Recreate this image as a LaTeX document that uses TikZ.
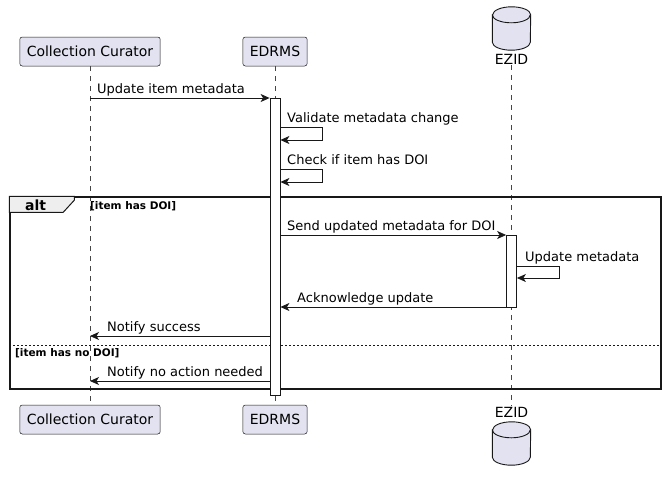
\documentclass[tikz,border=0pt]{standalone}
\usepackage{fontspec}
\setmainfont{DejaVu Sans}
\usetikzlibrary{arrows.meta,calc}
\definecolor{partfill}{HTML}{E2E2F0}
\definecolor{linegray}{HTML}{181818}
\definecolor{tabfill}{HTML}{EEEEEE}

\begin{document}
\begin{tikzpicture}[x=1pt,y=-1pt]
    % Define styles
    \tikzstyle{participant} = [rectangle, draw=linegray, line width=0.5pt, fill=partfill, rounded corners=2.5pt, minimum height=29pt, inner xsep=7pt, font=\fontsize{14}{16}\selectfont]
    \tikzstyle{database} = [rectangle, inner sep=0pt, minimum width=38pt, minimum height=43pt]
    \tikzstyle{dbshape} = [draw=linegray, line width=0.9pt, fill=partfill]
    \tikzstyle{dbname} = [anchor=base, inner sep=1pt, font=\fontsize{14}{16}\selectfont]
    \tikzstyle{activation} = [rectangle, draw=linegray, line width=0.8pt, fill=white, minimum width=10pt, inner sep=0pt]
    \tikzstyle{lifeline} = [draw=linegray!80, line width=0.5pt, dash pattern=on 5pt off 5pt]
    \tikzstyle{msg} = [draw=linegray, line width=0.8pt, -{Stealth[length=9pt,width=8pt,inset=2.5pt]}]
    \tikzstyle{msgtext} = [anchor=base west, inner sep=0pt, font=\fontsize{13}{15}\selectfont]
    \tikzstyle{guard} = [anchor=base west, inner sep=0pt, font=\fontsize{10.5}{12}\bfseries]

    \useasboundingbox (0,0) rectangle (666,482);

    % Participants, top
    \node[participant] (curator) at (90,51.5) {Collection Curator};
    \node[participant] (edrms) at (275,51.5) {EDRMS};
    \node[database] (ezid) at (511.5,28.5) {};
    \node[dbname] (ezidname) at (511.5,64) {EZID};

    % Participants, bottom
    \node[participant] (curatorb) at (90,419.5) {Collection Curator};
    \node[participant] (edrmsb) at (275,419.5) {EDRMS};
    \node[dbname] (ezidnameb) at (511.5,417) {EZID};
    \node[database] (ezidb) at (511.5,443.5) {};

    % Cylinders
    \foreach \db in {ezid,ezidb} {
        \draw[dbshape] ($(\db.north west)+(0,8)$) -- ($(\db.south west)+(0,-8)$)
            arc[start angle=180, end angle=360, x radius=19pt, y radius=8pt]
            -- ($(\db.north east)+(0,8)$)
            arc[start angle=0, end angle=180, x radius=19pt, y radius=8pt] -- cycle;
        \draw[dbshape, fill=none] ($(\db.north west)+(0,8)$)
            arc[start angle=180, end angle=360, x radius=19pt, y radius=8pt];
    }

    % Lifelines
    \draw[lifeline] (curator.south) -- (curatorb.north);
    \draw[lifeline] (edrms.south) -- (edrmsb.north);
    \draw[lifeline] (ezidname.south) -- (ezidnameb.north);

    % Alt frame
    \node[rectangle, draw=linegray, line width=1.5pt, minimum width=651pt, minimum height=192pt, inner sep=0pt] (altframe) at (335.5,293) {};
    \draw[draw=linegray, line width=1pt, fill=tabfill] (altframe.north west) -- ++(65,0) -- ++(0,4) -- ++(-11,12) -- ++(-54,0) -- cycle;
    \node[anchor=base west, inner sep=0pt, font=\fontsize{14}{16}\bfseries] (altname) at (25,210) {alt};
    \node[guard] (guard1) at (90,209) {[item has DOI]};
    \draw[draw=linegray, line width=0.6pt, dash pattern=on 2pt off 2pt] (altframe.west |- 0,345) -- (altframe.east |- 0,345);
    \node[guard] (guard2) at (15,356) {[item has no DOI]};

    % Activations
    \node[activation, minimum height=297pt] (edrmsact) at (275,246.5) {};
    \node[activation, minimum height=72pt] (ezidact) at (511.5,271) {};

    % Messages
    \draw[msg] (curator.south |- 0,98) -- (edrmsact.west |- 0,98);
    \node[msgtext] (m1) at (97,93) {Update item metadata};
    \draw[msg] (edrmsact.east |- 0,127) -- ++(42,0) -- ++(0,13) -- (edrmsact.east |- 0,140);
    \node[msgtext] (m2) at (287,122) {Validate metadata change};
    \draw[msg] (edrmsact.east |- 0,169) -- ++(42,0) -- ++(0,13) -- (edrmsact.east |- 0,182);
    \node[msgtext] (m3) at (287,164) {Check if item has DOI};
    \draw[msg] (edrmsact.east |- 0,235) -- (ezidact.west |- 0,235);
    \node[msgtext] (m4) at (287,230) {Send updated metadata for DOI};
    \draw[msg] (ezidact.east |- 0,266) -- ++(42,0) -- ++(0,12) -- (ezidact.east |- 0,278);
    \node[msgtext] (m5) at (525,261) {Update metadata};
    \draw[msg] (ezidact.west |- 0,307) -- (edrmsact.east |- 0,307);
    \node[msgtext] (m6) at (297,302) {Acknowledge update};
    \draw[msg] (edrmsact.west |- 0,336) -- (curator.south |- 0,336);
    \node[msgtext] (m7) at (107,331) {Notify success};
    \draw[msg] (edrmsact.west |- 0,381) -- (curator.south |- 0,381);
    \node[msgtext] (m8) at (107,376) {Notify no action needed};
\end{tikzpicture}
\end{document}
